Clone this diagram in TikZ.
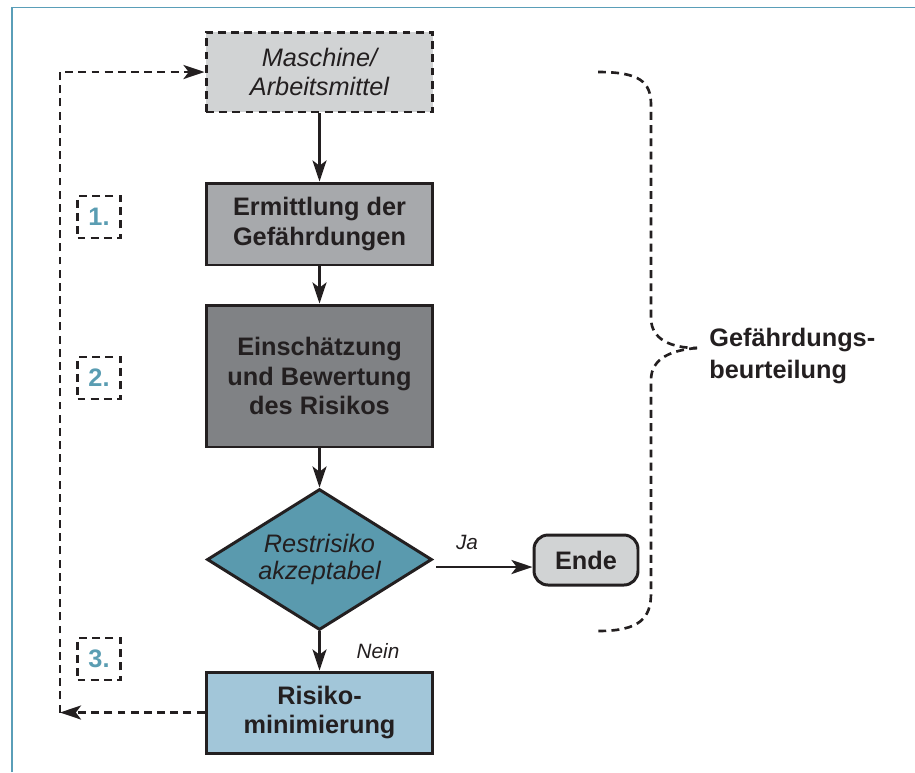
\documentclass[tikz,border=0pt]{standalone}
\usepackage{fontspec}
\setmainfont{Liberation Sans}
\usetikzlibrary{arrows.meta,shapes.geometric,calc}
\definecolor{ink}{HTML}{231F20}
\definecolor{frameteal}{HTML}{5A9EB8}
\definecolor{numteal}{HTML}{5A9DB2}
\definecolor{lightgray}{HTML}{D1D3D4}
\definecolor{midgray}{HTML}{A7A9AC}
\definecolor{darkgray}{HTML}{808285}
\definecolor{diateal}{HTML}{5A9AAE}
\definecolor{lightblue}{HTML}{A2C6D9}
\begin{document}
\begin{tikzpicture}[x=0.02cm,y=-0.02cm,
  box/.style={draw=ink, line width=1.7pt, align=center, inner sep=0pt, text=ink,
    font=\fontsize{14.4}{17}\selectfont\bfseries},
  itbox/.style={box, font=\fontsize{14.4}{16.4}\selectfont\itshape},
  dsh/.style={dash pattern=on 4.5pt off 3pt},
  numbox/.style={draw=ink, line width=1.5pt, dsh, minimum width=0.86cm, minimum height=0.84cm,
    inner sep=0pt, text=numteal, font=\fontsize{14.4}{17}\selectfont\bfseries},
  arr/.style={draw=ink, line width=1.5pt, -{Stealth[length=12pt,width=8pt,inset=3pt]}},
  darr/.style={arr, dsh},
  dline/.style={draw=ink, line width=1.5pt, dsh},
  lbl/.style={inner sep=0pt, text=ink, font=\fontsize{11.8}{14}\selectfont\itshape}
]
\path[use as bounding box] (0,0) rectangle (915,772);
% frame
\draw[frameteal, line width=1.1pt] (12,772) -- (12,7.5) -- (915,7.5);

% main nodes
\node[itbox, dsh, fill=lightgray, minimum width=4.54cm, minimum height=1.6cm]
  (top) at (319.5,72) {Maschine/\\Arbeitsmittel};
\node[box, fill=midgray, minimum width=4.54cm, minimum height=1.64cm]
  (erm) at (319.5,224) {Ermittlung der\\Gefährdungen};
\node[box, fill=darkgray, minimum width=4.54cm, minimum height=2.84cm]
  (ein) at (319.5,376) {Einschätzung\\und Bewertung\\des Risikos};
\node[itbox, diamond, shape aspect=1.6, fill=diateal, minimum width=4.5cm, minimum height=2.82cm,
  font=\fontsize{14.4}{15.3}\selectfont\itshape]
  (dia) at (319.5,559.5) {Restrisiko\\akzeptabel};
\node[box, rounded corners=8pt, fill=lightgray, minimum width=2.08cm, minimum height=1.0cm]
  (ende) at (586,560) {Ende};
\node[box, fill=lightblue, minimum width=4.54cm, minimum height=1.62cm]
  (ris) at (319.5,712.5) {Risiko-\\minimierung};

% numbered boxes
\node[numbox] (n1) at (99,217) {1.};
\node[numbox] (n2) at (99,378) {2.};
\node[numbox] (n3) at (99,659) {3.};

% connectors
\draw[arr] (top.south) -- (erm.north);
\draw[arr] (erm.south) -- (ein.north);
\draw[arr] (ein.south) -- (dia.north);
\draw[arr] (dia.south) -- (ris.north);
\coordinate (jaS) at ($(dia.east)+(3,7.5)$);
\draw[arr] (jaS) -- (jaS -| ende.west);
\node[lbl] (ja) at (467,542) {Ja};
\node[lbl] (nein) at (378,651) {Nein};

% feedback loop
\coordinate (fbL) at (60,712.5);
\coordinate (fbT) at (60,72);
\draw[darr] (ris.west) -- (fbL);
\draw[darr] (fbL) -- (fbT) -- (top.west);

% brace
\draw[dline] (598,72) .. controls (640,72) and (651,82) .. (651,105)
  -- (651,318) .. controls (651,340) and (672,348) .. (697,348);
\draw[dline] (697,348) .. controls (672,350) and (651,358) .. (651,380)
  -- (651,593) .. controls (651,618) and (640,631) .. (598,631);
\node[anchor=west, align=left, inner sep=0pt, text=ink,
  font=\fontsize{14.4}{18}\selectfont\bfseries] (gb) at (709,356) {Gefährdungs-\\beurteilung};
\end{tikzpicture}
\end{document}
